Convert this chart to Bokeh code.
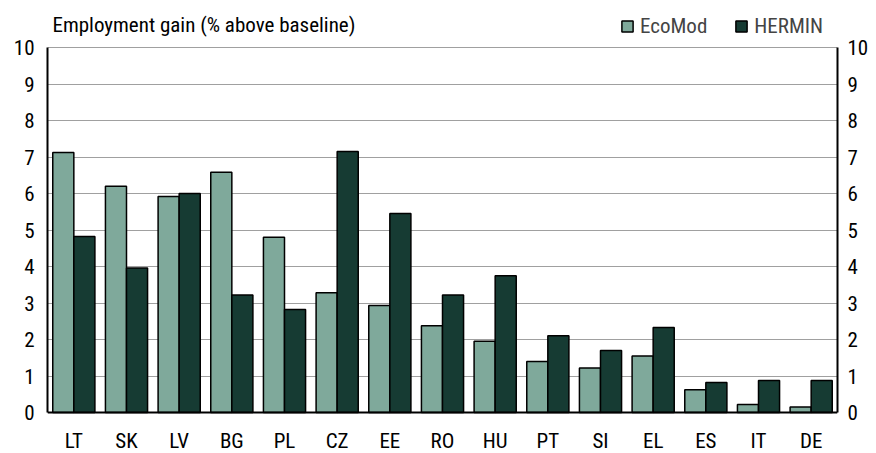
from bokeh.plotting import figure
from bokeh.models import (FactorRange, Range1d, LinearAxis, Legend, LegendItem,
                          FixedTicker, ColumnDataSource, Label)
from bokeh.transform import dodge
from bokeh.embed import file_html
from bokeh.resources import INLINE

countries = ["LT", "SK", "LV", "BG", "PL", "CZ", "EE", "RO", "HU", "PT", "SI", "EL", "ES", "IT", "DE"]
ecomod = [7.12, 6.20, 5.92, 6.58, 4.80, 3.28, 2.93, 2.38, 1.95, 1.40, 1.22, 1.55, 0.62, 0.22, 0.15]
hermin = [4.82, 3.96, 6.00, 3.22, 2.82, 7.15, 5.45, 3.22, 3.75, 2.10, 1.70, 2.33, 0.82, 0.88, 0.88]
y_ticks = [0, 1, 2, 3, 4, 5, 6, 7, 8, 9, 10]
series_names = ["EcoMod", "HERMIN"]
title_text = "Employment gain (% above baseline)"

FONT = "Roboto Condensed"
FS = "21px"
C_ECO = "#7fa99b"
C_HER = "#163b33"

W, H = 876, 453
PX_PER_UNIT = 36.5          # vertical scale of the value axis
ZERO_Y = 412                # pixel row of the value 0

src = ColumnDataSource(dict(c=countries, eco=ecomod, her=hermin))

p = figure(width=W, height=H,
           x_range=FactorRange(*countries, range_padding=0),
           y_range=Range1d(-(H - ZERO_Y) / PX_PER_UNIT, ZERO_Y / PX_PER_UNIT),
           min_border_left=47, min_border_right=39, min_border_top=0, min_border_bottom=0,
           output_backend="svg", toolbar_location=None)

r1 = p.vbar(x=dodge("c", -0.2, range=p.x_range), top="eco", width=0.4, source=src,
            fill_color=C_ECO, line_color="black", line_width=1.5)
r2 = p.vbar(x=dodge("c", 0.2, range=p.x_range), top="her", width=0.4, source=src,
            fill_color=C_HER, line_color="black", line_width=1.5)

p.outline_line_color = None
p.xgrid.grid_line_color = None
p.ygrid.ticker = FixedTicker(ticks=y_ticks)
p.ygrid.grid_line_color = "#a0a0a0"
p.ygrid.grid_line_width = 1
p.ygrid.level = "underlay"

def style_axis(ax, standoff):
    ax.axis_line_color = "black"
    ax.axis_line_width = 2
    ax.major_tick_in = 0
    ax.major_tick_out = 0
    ax.minor_tick_in = 0
    ax.minor_tick_out = 0
    ax.major_label_text_font = FONT
    ax.major_label_text_font_size = FS
    ax.major_label_text_color = "black"
    ax.major_label_standoff = standoff

p.yaxis.ticker = FixedTicker(ticks=y_ticks)
p.yaxis.bounds = (y_ticks[0], y_ticks[-1])
style_axis(p.yaxis[0], 13)

p.xaxis.fixed_location = 0
style_axis(p.xaxis[0], 16)

ry = LinearAxis(ticker=FixedTicker(ticks=y_ticks), bounds=(y_ticks[0], y_ticks[-1]))
style_axis(ry, 10)
p.add_layout(ry, "right")

title = Label(x=5, y=H - 24, x_units="screen", y_units="screen", text=title_text,
              text_font=FONT, text_font_size=FS, text_color="black",
              text_baseline="alphabetic")
p.add_layout(title)

legend = Legend(items=[LegendItem(label=series_names[0], renderers=[r1]),
                       LegendItem(label=series_names[1], renderers=[r2])],
                orientation="horizontal", location=(573, H - 38),
                border_line_color=None, background_fill_alpha=0,
                label_text_font=FONT, label_text_font_size=FS,
                glyph_width=14, glyph_height=14, spacing=27, label_standoff=6,
                padding=0, margin=0)
p.add_layout(legend, "center")

open("out.html", "w").write(file_html(p, INLINE))
